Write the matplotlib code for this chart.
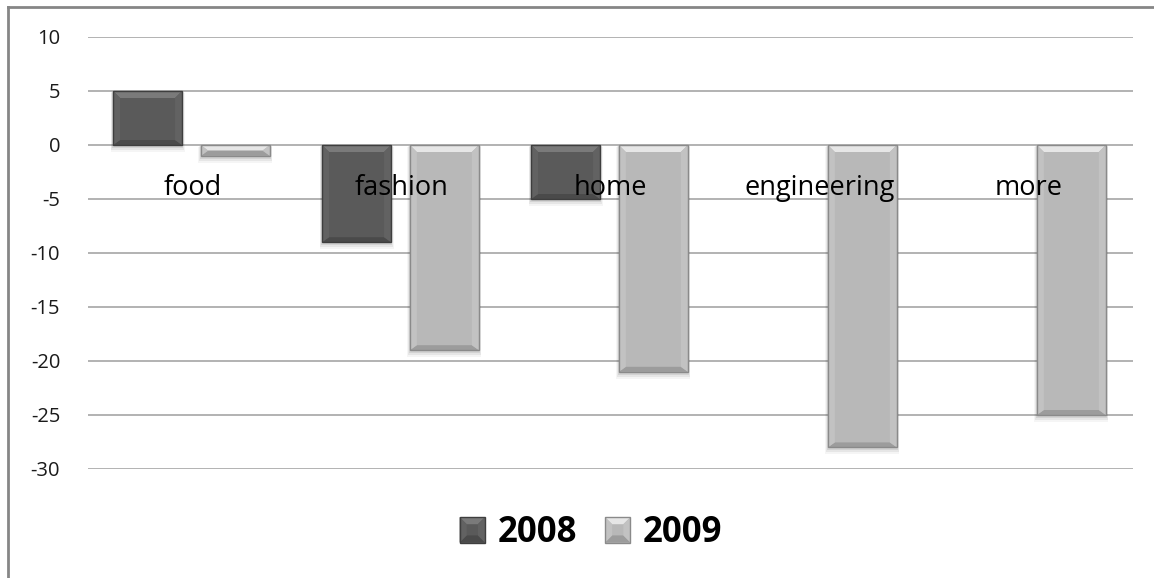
import matplotlib
matplotlib.use("Agg")
import matplotlib.pyplot as plt
import numpy as np
from matplotlib.patches import Polygon, Rectangle
from matplotlib.lines import Line2D
from matplotlib.legend_handler import HandlerPatch

categories = ["food", "fashion", "home", "engineering", "more"]
series_names = ["2008", "2009"]
values_2008 = [5, -9, -5, 0, 0]
values_2009 = [-1, -19, -21, -28, -25]
y_ticks = [10, 5, 0, -5, -10, -15, -20, -25, -30]

FONT = ["Open Sans", "DejaVu Sans"]
plt.rcParams["font.family"] = FONT

# colour scheme: (face, top highlight, sides, bottom shade, edge)
STYLES = {
    "2008": ("#5a5a5a", "#7a7a7a", "#626262", "#4a4a4a", "#3e3e3e"),
    "2009": ("#b8b8b8", "#e6e6e6", "#c2c2c2", "#9c9c9c", "#8a8a8a"),
}

fig = plt.figure(figsize=(11.54, 5.78), dpi=100)
ax = fig.add_axes([88 / 1154, 1 - 469 / 578, (1133 - 88) / 1154, (469 - 37) / 578])

x = np.arange(len(categories))
width = 0.33
offsets = [-0.215, 0.205]

ax.set_xlim(-0.5, len(categories) - 0.5)
ax.set_ylim(min(y_ticks), max(y_ticks))
ax.set_yticks(y_ticks)
ax.set_yticklabels([str(t) for t in y_ticks])
ax.tick_params(axis="y", length=0, pad=20, labelsize=14.5, labelcolor="#1a1a1a")
ax.set_xticks([])
for s in ax.spines.values():
    s.set_visible(False)
ax.yaxis.grid(True, color="#a6a6a6", linewidth=1.2)
ax.set_axisbelow(True)

fig.canvas.draw()
# pixel -> data scale for bevel sizes
p0 = ax.transData.transform((0, 0))
p1 = ax.transData.transform((1, 1))
px_x = 1.0 / (p1[0] - p0[0])
px_y = 1.0 / (p1[1] - p0[1])


def draw_bevel(rect, style):
    face, top, side, bot, edge = style
    bx, by = rect.get_x(), rect.get_y()
    w, h = rect.get_width(), rect.get_height()
    y0, y1 = min(by, by + h), max(by, by + h)
    if y1 - y0 <= 0:
        return
    # soft shadow
    for k, a in [(5, 0.04), (3.5, 0.06), (2, 0.08)]:
        ax.add_patch(Rectangle((bx - k * px_x * 0.5, y0 - k * px_y * 1.4),
                               w + k * px_x, (y1 - y0) + k * px_y,
                               facecolor="black", alpha=a, edgecolor="none", zorder=2))
    dx = min(7 * px_x, w / 2)
    dy = min(7 * px_y, (y1 - y0) / 2)
    dyb = min(5 * px_y, (y1 - y0) / 2)
    x0, x1 = bx, bx + w
    polys = [
        ([(x0, y1), (x1, y1), (x1 - dx, y1 - dy), (x0 + dx, y1 - dy)], top),
        ([(x0, y0), (x1, y0), (x1 - dx, y0 + dyb), (x0 + dx, y0 + dyb)], bot),
        ([(x0, y0), (x0, y1), (x0 + dx, y1 - dy), (x0 + dx, y0 + dyb)], side),
        ([(x1, y0), (x1, y1), (x1 - dx, y1 - dy), (x1 - dx, y0 + dyb)], side),
    ]
    for pts, c in polys:
        ax.add_patch(Polygon(pts, closed=True, facecolor=c, edgecolor="none", zorder=3.5))
    ax.add_patch(Rectangle((x0, y0), w, y1 - y0, facecolor="none",
                           edgecolor=edge, linewidth=1.0, zorder=3.6))


all_vals = [values_2008, values_2009]
handles = []
for i, (name, vals) in enumerate(zip(series_names, all_vals)):
    st = STYLES[name]
    bars = ax.bar(x + offsets[i], vals, width, color=st[0], edgecolor="none",
                  zorder=3, label=name)
    for r in bars:
        draw_bevel(r, st)
    handles.append(bars)

for i, c in enumerate(categories):
    ax.text(x[i], -4.0, c, ha="center", va="center", fontsize=19.5,
            color="black", zorder=5)


class BevelHandler(HandlerPatch):
    def __init__(self, style):
        super().__init__()
        self.style = style

    def create_artists(self, legend, orig_handle, xdescent, ydescent, width, height,
                       fontsize, trans):
        face, top, side, bot, edge = self.style
        s = min(width, height)
        x0 = -xdescent + (width - s) / 2
        y0 = -ydescent + (height - s) / 2
        x1, y1 = x0 + s, y0 + s
        d = s * 0.28
        arts = [Rectangle((x0, y0), s, s, facecolor=face, edgecolor="none")]
        polys = [
            ([(x0, y1), (x1, y1), (x1 - d, y1 - d), (x0 + d, y1 - d)], top),
            ([(x0, y0), (x1, y0), (x1 - d, y0 + d), (x0 + d, y0 + d)], bot),
            ([(x0, y0), (x0, y1), (x0 + d, y1 - d), (x0 + d, y0 + d)], side),
            ([(x1, y0), (x1, y1), (x1 - d, y1 - d), (x1 - d, y0 + d)], side),
        ]
        for pts, c in polys:
            arts.append(Polygon(pts, closed=True, facecolor=c, edgecolor="none"))
        arts.append(Rectangle((x0, y0), s, s, facecolor="none", edgecolor=edge, linewidth=1))
        for a in arts:
            a.set_transform(trans)
        return arts


leg = fig.legend(handles, series_names, loc="center", bbox_to_anchor=(0.512, 0.078),
                 ncol=2, frameon=False, prop={"family": FONT, "weight": "bold", "size": 25},
                 handlelength=0.75, handleheight=0.75, handletextpad=0.35, columnspacing=0.8,
                 handler_map={handles[0]: BevelHandler(STYLES["2008"]),
                              handles[1]: BevelHandler(STYLES["2009"])})

# outer chart frame (top and left edges visible)
fig.add_artist(Line2D([8 / 1154, 1], [1 - 7 / 578, 1 - 7 / 578], transform=fig.transFigure,
                      color="#868686", linewidth=2))
fig.add_artist(Line2D([8 / 1154, 8 / 1154], [0, 1 - 7 / 578], transform=fig.transFigure,
                      color="#868686", linewidth=2))

fig.savefig("out.png", dpi=100)
